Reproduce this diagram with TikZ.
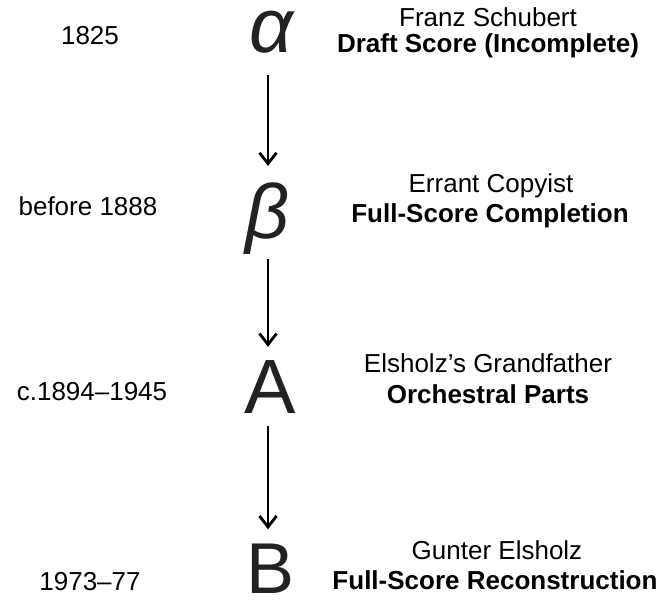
\documentclass[tikz,border=0pt]{standalone}
\usepackage{fontspec}
\setmainfont{Liberation Sans}
\usetikzlibrary{arrows.meta}
\definecolor{glyph}{HTML}{222222}
\begin{document}
\begin{tikzpicture}[x=1bp, y=-1bp,
  big/.style={font=\fontsize{77bp}{77bp}\selectfont, text=glyph, inner sep=0pt, anchor=base},
  who/.style={font=\fontsize{26bp}{30bp}\selectfont, inner sep=0pt, anchor=base},
  what/.style={font=\fontsize{26bp}{30bp}\selectfont\bfseries, inner sep=0pt, anchor=base},
  when/.style={font=\fontsize{26bp}{30bp}\selectfont, inner sep=0pt, anchor=base},
  flow/.style={line width=2.8bp, -{Straight Barb[length=11bp, width=17bp]}}]
\useasboundingbox (0,0) rectangle (665,601);
\coordinate (spine) at (268,0);

% stemma letters
\node[big] (alpha) at (271,53) {\itshape α};
\node[big] (beta)  at (267,238) {\itshape β};
\node[big] (A)     at (270,413) {A};
\node[big, font=\fontsize{72bp}{72bp}\selectfont] (B) at (271,593) {B};

% transmission arrows
\draw[flow, shorten <=21bp, shorten >=16bp] (alpha.south -| spine) -- (beta.north -| spine);
\draw[flow, shorten <=5bp,  shorten >=13bp] (beta.south -| spine)  -- (A.north -| spine);
\draw[flow, shorten <=13bp, shorten >=14bp] (A.south -| spine)     -- (B.north -| spine);

% dates
\node[when] (d1) at (90,45)  {1825};
\node[when] (d2) at (88,215) {before 1888};
\node[when] (d3) at (92,400) {c.1894–1945};
\node[when] (d4) at (90,590) {1973–77};

% agents and documents
\node[who]  (w1) at (488,27)  {Franz Schubert};
\node[what] (s1) at (488,53)  {Draft Score (Incomplete)};
\node[who]  (w2) at (491,193) {Errant Copyist};
\node[what] (s2) at (490,222) {Full-Score Completion};
\node[who]  (w3) at (488,372) {Elsholz’s Grandfather};
\node[what] (s3) at (488,403) {Orchestral Parts};
\node[who]  (w4) at (497,559) {Gunter Elsholz};
\node[what] (s4) at (495,589) {Full-Score Reconstruction};
\end{tikzpicture}
\end{document}
